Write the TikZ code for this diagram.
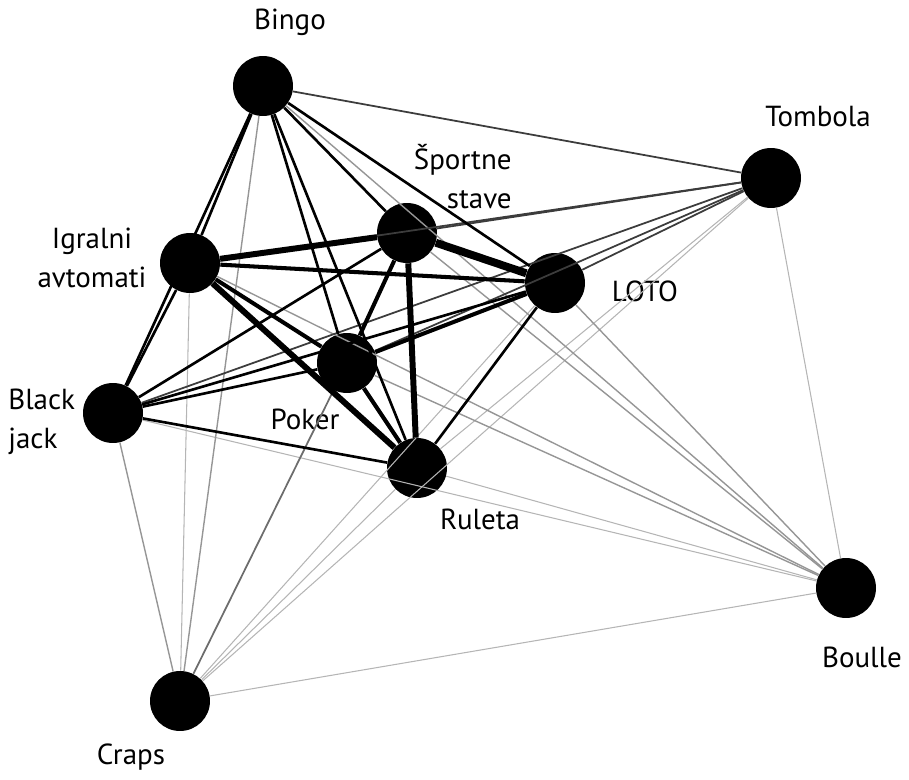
\documentclass[tikz,border=0pt]{standalone}
\usepackage{fontspec}
\setmainfont{PT Sans}
\definecolor{linkgray}{RGB}{150,150,150}
\definecolor{linkdark}{RGB}{60,60,60}
\usetikzlibrary{positioning}

\begin{document}
\begin{tikzpicture}[x=0.02cm, y=-0.02cm,
    every node/.style={font=\fontsize{16.5}{22}\selectfont},
    game/.style={circle, fill=black, minimum size=1.2cm, inner sep=0pt},
    lbl/.style={inner sep=0pt},
    faint/.style={draw=linkgray!70, line width=0.6pt},
    lite/.style={draw=linkgray, line width=0.8pt},
    mid/.style={draw=linkdark, line width=1pt},
    bold/.style={draw=black, line width=1.5pt},
    heavy/.style={draw=black, line width=2.3pt},
    huge/.style={draw=black, line width=3.4pt},
    massive/.style={draw=black, line width=4.5pt}]
    \useasboundingbox (0,0) rectangle (909,780);
    % games
    \node[game] (bingo) at (263,86) {};
    \node[game] (tomb) at (771,178) {};
    \node[game] (sport) at (407,233) {};
    \node[game] (igr) at (190,263) {};
    \node[game] (loto) at (555,283) {};
    \node[game] (poker) at (347,363) {};
    \node[game] (bj) at (113,413) {};
    \node[game] (rul) at (417,468) {};
    \node[game] (boul) at (846,588) {};
    \node[game] (craps) at (180,701) {};
    % labels
    \node[lbl] (lbingo) at (290,22) {Bingo};
    \node[lbl] (ltomb) at (818,117) {Tombola};
    \node[lbl, align=right, anchor=north east] (lsport) at (512,144) {Športne\\stave};
    \node[lbl, align=center] (ligr) at (92,258) {Igralni\\avtomati};
    \node[lbl] (lloto) at (645,291) {LOTO};
    \node[lbl] (lpoker) at (305,419) {Poker};
    \node[lbl, align=left, anchor=north west] (lbj) at (8,389) {Black\\jack};
    \node[lbl] (lrul) at (480,519) {Ruleta};
    \node[lbl] (lboul) at (862,657) {Boulle};
    \node[lbl] (lcraps) at (131,757) {Craps};
    % faint links
    \draw[faint] (craps) -- (boul);
    \draw[faint] (craps) -- (rul);
    \draw[faint] (craps) -- (loto);
    \draw[faint] (craps) -- (tomb);
    \draw[faint] (craps) -- (igr);
    \draw[faint] (rul) -- (tomb);
    \draw[faint] (rul) -- (boul);
    \draw[faint] (bj) -- (boul);
    \draw[faint] (tomb) -- (boul);
    % light links
    \draw[lite] (craps) -- (bj);
    \draw[lite] (craps) -- (bingo);
    \draw[lite] (bingo) -- (boul);
    \draw[lite] (igr) -- (boul);
    \draw[lite] (poker) -- (boul);
    \draw[lite] (sport) -- (boul);
    \draw[lite] (loto) -- (boul);
    % medium links
    \draw[mid, draw=linkdark!75] (craps) -- (poker);
    \draw[mid] (tomb) -- (igr);
    \draw[mid] (tomb) -- (bj);
    \draw[mid] (tomb) -- (poker);
    \draw[mid] (tomb) -- (loto);
    \draw[mid] (tomb) -- (bingo);
    \draw[mid] (tomb) -- (sport);
    % strong links
    \draw[bold] (bingo) -- (igr);
    \draw[bold] (bingo) -- (bj);
    \draw[bold] (bingo) -- (sport);
    \draw[bold] (bingo) -- (loto);
    \draw[bold] (bingo) -- (poker);
    \draw[bold] (bingo) -- (rul);
    \draw[bold] (bj) -- (igr);
    \draw[bold] (bj) -- (sport);
    \draw[bold] (bj) -- (loto);
    \draw[bold] (bj) -- (poker);
    \draw[bold] (bj) -- (rul);
    \draw[bold] (loto) -- (rul);
    % heavy links
    \draw[heavy] (igr) -- (poker);
    \draw[heavy] (igr) -- (loto);
    \draw[heavy] (poker) -- (rul);
    \draw[heavy] (poker) -- (loto);
    \draw[heavy] (sport) -- (poker);
    \draw[huge] (igr) -- (rul);
    \draw[huge] (sport) -- (rul);
    \draw[huge] (igr) -- (sport);
    \draw[massive] (sport) -- (loto);
\end{tikzpicture}
\end{document}
